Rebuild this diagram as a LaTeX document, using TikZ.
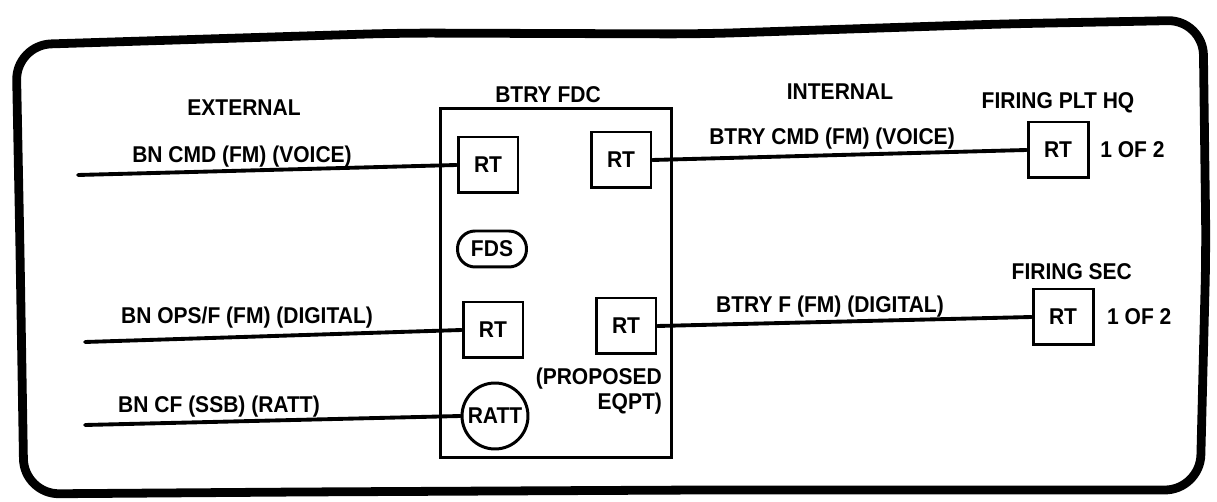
\documentclass[tikz,border=0pt]{standalone}
\usepackage{fontspec}
\setmainfont{Liberation Sans}[FakeStretch=0.92]
\usetikzlibrary{positioning}

\begin{document}
\begin{tikzpicture}[x=0.02cm,y=-0.02cm,font=\bfseries\fontsize{13}{14}\selectfont,line cap=round,
  rtbox/.style={draw,line width=1.7pt,minimum width=1.2cm,minimum height=1.12cm,inner sep=0pt},
  link/.style={line width=2.2pt},
  lbl/.style={inner sep=1pt}]
\useasboundingbox (0,0) rectangle (1217,502);
\draw[line width=5pt,rounded corners=20pt] (20,250) -- (16,45) -- (400,33) -- (700,34) -- (1000,24) -- (1203,20)
  -- (1206,250) -- (1200,490) -- (700,490) -- (300,492) -- (24,494) -- cycle;
\node[draw,line width=1.7pt,minimum width=4.64cm,minimum height=7cm] (fdc) at (556,283) {};
\node[lbl] (fdct) at (548,95) {BTRY FDC};
\node[lbl] (ext) at (244,108) {EXTERNAL};
\node[lbl] (int) at (840,92) {INTERNAL};
\node[rtbox] (rta) at (488,165) {RT};
\node[rtbox] (rtb) at (621,160) {RT};
\node[rtbox] (rtc) at (493,330) {RT};
\node[rtbox] (rtd) at (626,326) {RT};
\node[rtbox] (rte) at (1058,150) {RT};
\node[rtbox] (rtf) at (1063,317) {RT};
\node[lbl,above=3pt of rte] (plthq) {FIRING PLT HQ};
\node[lbl,above=3pt of rtf,xshift=5pt] (fsec) {FIRING SEC};
\node[lbl,right=5pt of rte] (ofa) {1 OF 2};
\node[lbl,right=6pt of rtf] (ofb) {1 OF 2};
\node[draw,line width=1.7pt,rounded corners=10pt,minimum width=1.38cm,minimum height=0.72cm] (fds) at (492,249) {FDS};
\node[draw,circle,line width=1.7pt,minimum size=1.32cm,inner sep=0pt] (ratt) at (495,416) {RATT};
\node[lbl,anchor=north east,align=right] (prop) at (664,366) {(PROPOSED\\EQPT)};
\coordinate (ea) at (78,175);
\coordinate (eb) at (85,342);
\coordinate (ec) at (85,425);
\draw[link] (ea) -- (rta.west);
\draw[link] (eb) -- (rtc.west);
\draw[link] (ec) -- (ratt.west);
\draw[link] (rtb.east) -- (rte.west);
\draw[link] (rtd.east) -- (rtf.west);
\node[lbl] (lba) at (242,157) {BN CMD (FM) (VOICE)};
\node[lbl] (lbb) at (247,318) {BN OPS/F (FM) (DIGITAL)};
\node[lbl] (lbc) at (219,407) {BN CF (SSB) (RATT)};
\node[lbl] (lbd) at (832,139) {BTRY CMD (FM) (VOICE)};
\node[lbl] (lbe) at (830,307) {BTRY F (FM) (DIGITAL)};
\end{tikzpicture}
\end{document}
